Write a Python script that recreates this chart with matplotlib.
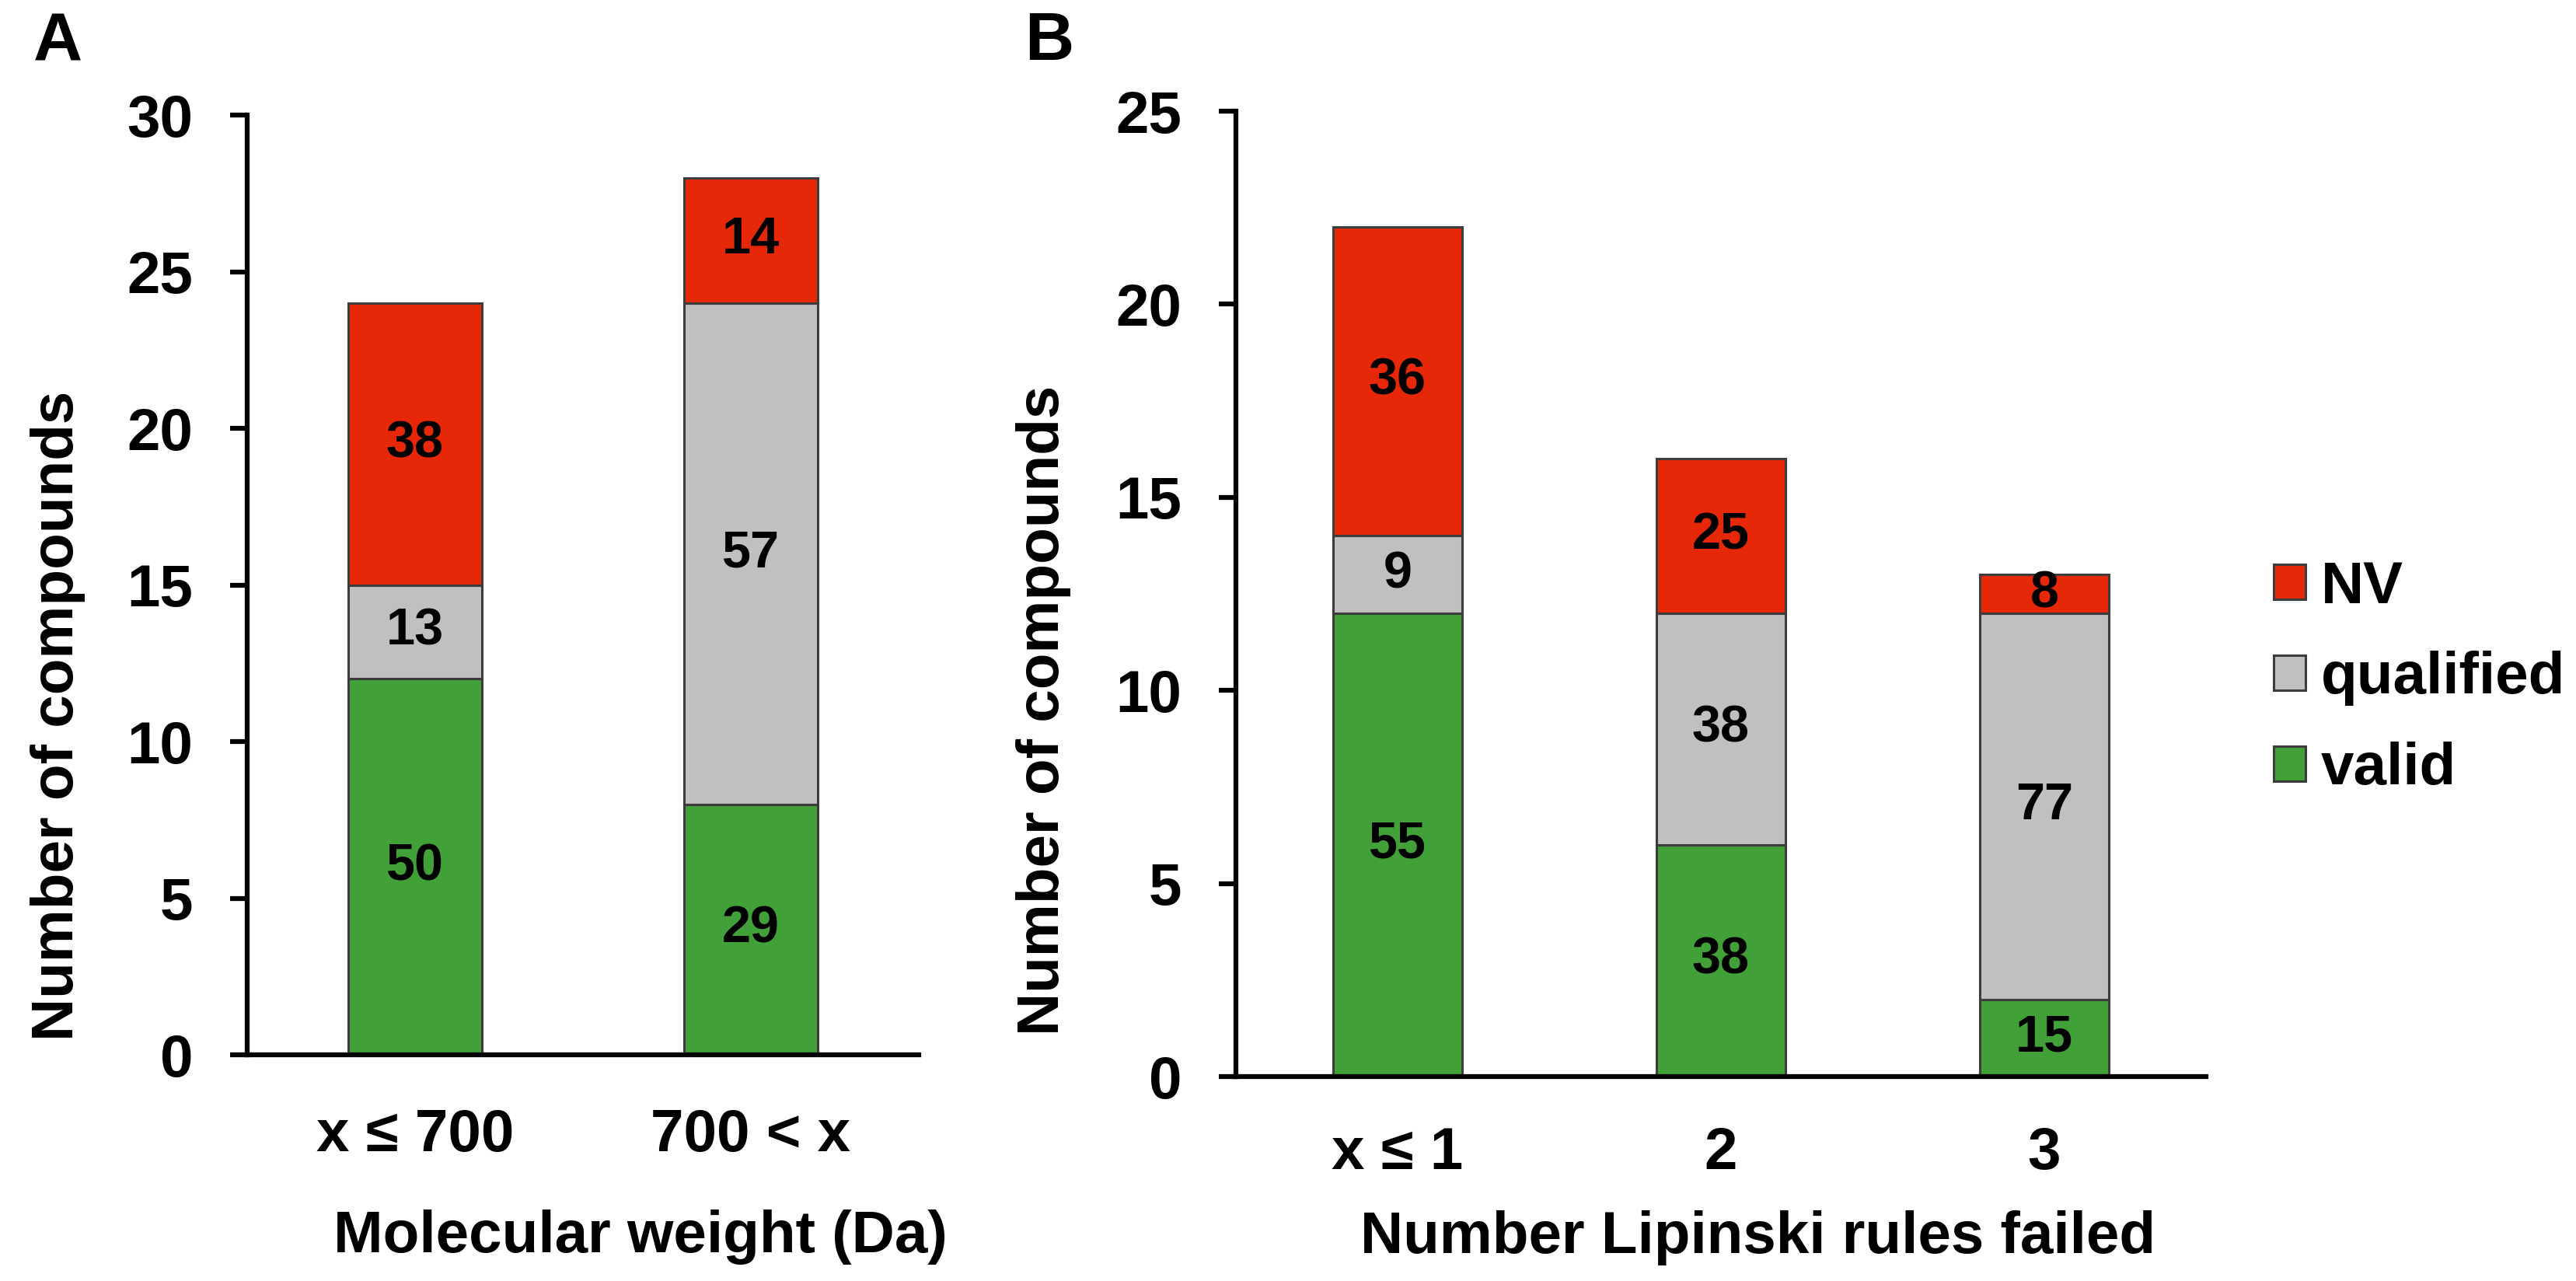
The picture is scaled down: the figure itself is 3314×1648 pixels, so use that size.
import numpy as np
import matplotlib
matplotlib.use('Agg')
import matplotlib.pyplot as plt
from matplotlib.patches import Patch

plt.rcParams['font.family'] = ['Liberation Sans', 'DejaVu Sans']
plt.rcParams['font.weight'] = 'bold'

# Panel A: molecular weight
cats_a = ['x ≤ 700', '700 < x']
valid_a = [12, 8]
qual_a = [3, 16]
nv_a = [9, 4]
lab_valid_a = ['50', '29']
lab_qual_a = ['13', '57']
lab_nv_a = ['38', '14']

# Panel B: Lipinski rules failed
cats_b = ['x ≤ 1', '2', '3']
valid_b = [12, 6, 2]
qual_b = [2, 6, 10]
nv_b = [8, 4, 1]
lab_valid_b = ['55', '38', '15']
lab_qual_b = ['9', '38', '77']
lab_nv_b = ['36', '25', '8']

series = ['valid', 'qualified', 'NV']
colors = {'valid': '#42A038', 'qualified': '#C0C0C0', 'NV': '#E62808'}

W, H = 3314, 1648
fig = plt.figure(figsize=(W / 100, H / 100), dpi=100)

def panel(rect, cats, vals, labs, ymax, xlab, xlab_x, xlab_y, ylab_x, ylab_y, tickpad):
    ax = fig.add_axes(rect)
    x = np.arange(len(cats))
    bottom = np.zeros(len(cats))
    for name, v, lb in zip(series, vals, labs):
        v = np.array(v, dtype=float)
        ax.bar(x, v, 0.4, bottom=bottom, color=colors[name],
               edgecolor='#3c3c3c', linewidth=2.2, zorder=2)
        for xi, b, h, t in zip(x, bottom, v, lb):
            ax.text(xi, b + h / 2, t, ha='center', va='center',
                    fontsize=48, fontweight='bold', color='black', zorder=3)
        bottom += v
    ax.set_xlim(-0.5, len(cats) - 0.5)
    ax.set_ylim(0, ymax)
    ax.set_yticks(np.arange(0, ymax + 1, 5))
    ax.set_xticks(x)
    ax.set_xticklabels(cats)
    for s in ['top', 'right']:
        ax.spines[s].set_visible(False)
    for s in ['left', 'bottom']:
        ax.spines[s].set_linewidth(4.5)
    ax.tick_params(axis='y', length=16, width=4.5, pad=34, labelsize=55)
    ax.tick_params(axis='x', length=0, pad=tickpad, labelsize=55)
    ax.set_xlabel(xlab, fontsize=55, fontweight='bold', va='center')
    ax.xaxis.set_label_coords(xlab_x, xlab_y)
    ax.set_ylabel('Number of compounds', fontsize=55, fontweight='bold',
                  va='center', ha='center')
    ax.yaxis.set_label_coords(ylab_x, ylab_y)
    return ax

ax_a = panel([318 / W, 1 - 1357 / H, 864 / W, 1209 / H], cats_a,
             [valid_a, qual_a, nv_a], [lab_valid_a, lab_qual_a, lab_nv_a], 30,
             'Molecular weight (Da)', 0.586, -0.194, -0.282, 0.361, 50)
ax_b = panel([1590 / W, 1 - 1385 / H, 1248 / W, 1242 / H], cats_b,
             [valid_b, qual_b, nv_b], [lab_valid_b, lab_qual_b, lab_nv_b], 25,
             'Number Lipinski rules failed', 0.538, -0.167, -0.198, 0.379, 46)

handles = [Patch(facecolor=colors[n], edgecolor='#3c3c3c', linewidth=2.2, label=n)
           for n in ['NV', 'qualified', 'valid']]
fig.legend(handles=handles, loc='center left', bbox_to_anchor=(2925 / W, 1 - 873 / H),
           frameon=False, fontsize=55, handlelength=0.54, handleheight=0.54,
           handletextpad=0.26, labelspacing=0.6, borderpad=0, borderaxespad=0)

fig.text(43 / W, 1 - 78 / H, 'A', fontsize=63, fontweight='bold', ha='left', va='baseline')
fig.text(1318 / W, 1 - 77 / H, 'B', fontsize=63, fontweight='bold', ha='left', va='baseline')

fig.savefig('out.png', dpi=100)
